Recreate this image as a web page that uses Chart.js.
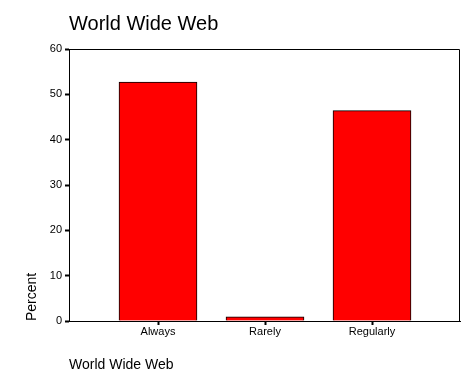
<!DOCTYPE html>
<html>
<head>
<meta charset="utf-8">
<script src="https://cdn.jsdelivr.net/npm/chart.js@4"></script>
<style>
  html, body { margin: 0; padding: 0; background: #fff; }
  #wrap { width: 476px; height: 389px; }
</style>
</head>
<body>
<div id="wrap"><canvas id="c" width="476" height="389"></canvas></div>
<script>
const chartTitle = "World Wide Web";
const xAxisTitle = "World Wide Web";
const yAxisTitle = "Percent";
const categories = ["Always", "Rarely", "Regularly"];
const percentValues = [52.7, 0.9, 46.4];
const yTicks = [0, 10, 20, 30, 40, 50, 60];

const FONT = "'Liberation Sans', Arial, sans-serif";

const frame = {
  id: 'frame',
  afterDatasetsDraw(chart) {
    const a = chart.chartArea, ctx = chart.ctx;
    ctx.save();
    ctx.strokeStyle = '#000';
    ctx.lineWidth = 1;
    ctx.beginPath();
    ctx.moveTo(a.left, a.top + 0.5);
    ctx.lineTo(a.right - 0.5, a.top + 0.5);
    ctx.lineTo(a.right - 0.5, a.bottom);
    ctx.stroke();
    ctx.restore();
  }
};

new Chart(document.getElementById('c'), {
  type: 'bar',
  data: {
    datasets: [{
      data: categories.map((c, i) => ({ x: i, y: percentValues[i] })),
      backgroundColor: '#ff0000',
      borderColor: '#000000',
      borderWidth: 1,
      barThickness: 78
    }]
  },
  plugins: [frame],
  options: {
    responsive: false,
    animation: false,
    devicePixelRatio: 1,
    layout: { padding: { left: 0, right: 16, top: 0, bottom: 0 } },
    plugins: {
      legend: { display: false },
      tooltip: { enabled: false },
      title: {
        display: true,
        text: chartTitle,
        align: 'start',
        fullSize: false,
        color: '#000',
        font: { family: FONT, size: 20, weight: 'normal', lineHeight: 1.2 },
        padding: { top: 12, bottom: 13 }
      }
    },
    scales: {
      x: {
        type: 'linear',
        offset: false,
        min: -0.83178,
        max: 2.82243,
        afterBuildTicks(scale) {
          scale.ticks = categories.map((c, i) => ({ value: i }));
        },
        afterFit(scale) { scale.height = 68; },
        ticks: {
          callback: (v) => categories[v],
          color: '#000',
          font: { family: FONT, size: 11 },
          padding: 0,
          autoSkip: false,
          maxRotation: 0
        },
        grid: {
          offset: false,
          drawOnChartArea: false,
          drawTicks: true,
          tickLength: 4,
          tickWidth: 2,
          tickColor: '#000'
        },
        border: { display: true, color: '#000', width: 1 },
        title: {
          display: true,
          text: xAxisTitle,
          align: 'start',
          color: '#000',
          font: { family: FONT, size: 14, lineHeight: 1.2 },
          padding: { top: 0, bottom: 15 }
        }
      },
      y: {
        min: 0,
        max: 60,
        afterBuildTicks(scale) {
          scale.ticks = yTicks.map(v => ({ value: v }));
        },
        afterFit(scale) { scale.width = 69; },
        ticks: {
          color: '#000',
          font: { family: FONT, size: 11 },
          padding: 3
        },
        grid: {
          drawOnChartArea: false,
          drawTicks: true,
          tickLength: 4,
          tickWidth: 2,
          tickColor: '#000'
        },
        border: { display: true, color: '#000', width: 1 },
        title: {
          display: true,
          text: yAxisTitle,
          align: 'start',
          color: '#000',
          font: { family: FONT, size: 14, lineHeight: 1.2 },
          padding: { top: 23.5, bottom: 0 }
        }
      }
    }
  }
});
</script>
</body>
</html>
